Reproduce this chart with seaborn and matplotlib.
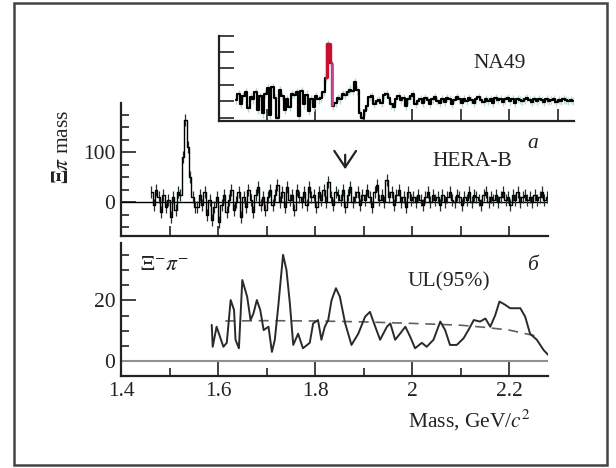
import numpy as np
import pandas as pd
import matplotlib
matplotlib.use("Agg")
import matplotlib.pyplot as plt
import seaborn as sns
from matplotlib.patches import Rectangle
from matplotlib.ticker import MultipleLocator, FixedLocator

# ---------------- data ----------------
# HERA-B Xi pi mass spectrum (counts per 5 MeV bin, starting at 1.460 GeV)
HERAB_START = 1.460
HERAB_BIN = 0.005
herab_counts = [
    20, -5, 25, 10, -20, 15, -10, 5, -30, 10, -15, 20,
    15, 90, 165, 110, 50, 10, -10,
    -10, 15, -5, 20, -25, 5, -35, -10, 10, -40, -5, 15, -20, 5, 25, -15, 0, 20, -30, 10,
    -10, 25, 5, -20, 15, 30, -5, 10, -15,
    10, 25, -5, 15, 35, 0, 20, -10, 30, 5, 15, -15, 25, 10, 0, 20, -5, 30, 10, 15,
    -10, 20, 5, 25, 0, 40, 10, -5, 20, 15, 5, 25, -10, 15, 30, 0, 10, 20, -5, 15,
    5, 25, 10, -10, 20, 35, 5, 15, 0, 45, 10, 20, -5, 15, 25, 0, 10, -10, 20, 5,
    10, 0, 15, 5, -5, 10, 20, 0, 15, 5, 10, -5, 15, 0, 10, 20, 5, 0, 15, 10,
    -5, 10, 5, 20, 0, 15, 10, 5, -5, 15, 20, 0, 10, 5, 15, 0, 10, 20, 5, 10,
    -5, 15, 5, 20, 0, 10, 15, 5, 10, 0, 15, 5, 10, 20, 5, 10,
]
HERAB_ERR = 12

# NA49 inset (arbitrary units per 5 MeV bin, starting at 1.635 GeV)
NA49_START = 1.635
NA49_BIN = 0.005
na49_counts = [
    0.06, 0.45, -0.15, 0.3, 0.57, -0.4, 0.25, 0.1, 0.57, -0.55, 0.3, -0.75,
    0.45, 0.77, -0.85, 0.87, 0.2, -1.05, 0.67, 0.3, -0.55, 0.1, -0.35, 0.45,
    0.35, 0.55, -0.9, 0.6, -0.2, 0.4, -0.6, 0.15, -0.35, 0.3, 0.1, 0.2,
    0.55, 1.4, 3.45, 2.3,
    -0.3, -0.1, 0.2, 0.1, 0.45, 0.4, 0.55, 0.7, 0.6, 1.17, 0.65, -0.75, -1.05, -0.6,
    -0.3, 0.25, 0.3, -0.15, 0.0, 0.05, -0.1, 0.35, 0.45, 0.2, -0.2, -0.35, 0.15, 0.3,
    0.05, 0.2, -0.3, 0.1, 0.3, 0.45, -0.15, 0.0, 0.1, -0.1, 0.2, 0.05, -0.15, 0.1,
    0.25, 0.0, -0.1, 0.15, -0.05, 0.2, 0.1, -0.15, 0.05, 0.25, 0.1, -0.1, 0.15, 0.0,
    0.2, 0.05, -0.1, 0.1, 0.25, 0.05, -0.05, 0.15, 0.0, 0.1, -0.1, 0.2, 0.05, 0.15,
    -0.05, 0.1, 0.2, 0.0, 0.1, -0.1, 0.15, 0.05, 0.0, 0.1, 0.2, 0.05, -0.05, 0.1,
    0.0, 0.15, 0.05, -0.05, 0.1, 0.0, 0.05, 0.1, -0.05, 0.05, 0.0, 0.1, 0.05, 0.0,
    0.05, 0.0,
]
NA49_PEAK_RED = 38      # bin index of the red peak bin
NA49_PEAK_MAG = [37, 39]  # neighbouring magenta bins

# Xi- pi- spectrum (panel b)
ul_mass = [1.587, 1.589, 1.597, 1.604, 1.611, 1.618, 1.626, 1.633, 1.636, 1.643,
           1.650, 1.660, 1.667, 1.673, 1.680, 1.687, 1.694, 1.704, 1.711, 1.717,
           1.724, 1.734, 1.741, 1.748, 1.755, 1.765, 1.775, 1.789, 1.796, 1.806,
           1.813, 1.820, 1.827, 1.834, 1.843, 1.851, 1.862, 1.875, 1.889, 1.903,
           1.913, 1.924, 1.934, 1.948, 1.955, 1.965, 1.975, 1.986, 1.996, 2.006,
           2.020, 2.030, 2.044, 2.058, 2.068, 2.078, 2.092, 2.106, 2.116, 2.127,
           2.140, 2.151, 2.161, 2.171, 2.180, 2.192, 2.202, 2.212, 2.223, 2.233,
           2.243, 2.257, 2.271, 2.281]
ul_counts = [11.9, 4.7, 11.3, 8.0, 4.7, 6.0, 20.1, 16.8, 7.0, 4.2,
             26.7, 21.2, 13.5, 15.7, 20.1, 16.8, 10.2, 11.3, 3.0, 7.0,
             17.9, 35.0, 30.0, 19.0, 5.3, 9.0, 4.2, 6.0, 12.4, 13.5,
             7.0, 11.3, 13.5, 20.1, 24.0, 21.2, 12.4, 5.3, 9.0, 14.6,
             16.2, 11.3, 7.0, 11.3, 12.4, 7.0, 9.0, 11.3, 8.0, 4.2,
             6.0, 4.7, 7.0, 13.0, 10.2, 5.3, 5.3, 7.5, 10.2, 13.5,
             13.0, 14.0, 11.3, 15.0, 19.6, 18.5, 17.4, 17.4, 17.4, 14.6,
             9.0, 7.0, 3.6, 1.9]
ul95_mass = [1.615, 1.70, 1.80, 1.90, 2.00, 2.10, 2.15, 2.20, 2.257]
ul95_level = [13.2, 13.3, 13.2, 12.9, 12.4, 11.8, 11.1, 10.2, 8.2]

main_xticks = [1.4, 1.6, 1.8, 2.0, 2.2]
main_xlabels = ["1.4", "1.6", "1.8", "2", "2.2"]

# ---------------- style ----------------
sns.set_style("ticks")
plt.rcParams['font.family'] = ['Liberation Serif', 'DejaVu Serif']
plt.rcParams['mathtext.fontset'] = 'stix'
FS = 15.5
INK = '#222222'

W, H = 616, 468
fig = plt.figure(figsize=(W / 100, H / 100), dpi=100)


def box(l, t, r, b):
    return [l / W, 1 - b / H, (r - l) / W, (b - t) / H]


ax_m = fig.add_axes(box(121, 103, 548, 236))
ax_b = fig.add_axes(box(121, 243, 548, 376))
ax_i = fig.add_axes(box(219, 36, 574, 121))

for ax in (ax_m, ax_b, ax_i):
    ax.set_facecolor('none')
    for s in ('top', 'right'):
        ax.spines[s].set_visible(False)
    for s in ('left', 'bottom'):
        ax.spines[s].set_linewidth(1.6)
        ax.spines[s].set_color(INK)
    ax.tick_params(which='both', direction='in', color=INK, width=1.2,
                   labelsize=FS, labelcolor=INK, pad=4)

# ---------------- HERA-B panel ----------------
hb = np.array(herab_counts, dtype=float)
hb_x = HERAB_START + (np.arange(len(hb)) + 0.5) * HERAB_BIN
ax_m.axhline(0, color='black', lw=1.0, zorder=1)
ax_m.vlines(hb_x, hb - HERAB_ERR, hb + HERAB_ERR, color='#20302e', lw=0.9, zorder=2)
sns.lineplot(x=hb_x, y=hb, ax=ax_m, drawstyle='steps-mid', color='black',
             lw=1.0, estimator=None, zorder=3)
ax_m.set_xlim(1.4, 2.28)
ax_m.set_ylim(-68, 198)
ax_m.xaxis.set_major_locator(MultipleLocator(0.1))
ax_m.set_xticklabels([])
ax_m.tick_params(axis='x', length=7)
ax_m.yaxis.set_major_locator(FixedLocator([0, 100]))
ax_m.yaxis.set_minor_locator(FixedLocator([-50, -25, 25, 50, 75, 125, 150, 175]))
ax_m.tick_params(axis='y', which='major', length=11)
ax_m.tick_params(axis='y', which='minor', length=6)
ax_m.set_xlabel('')
ax_m.set_ylabel('')
ax_m.annotate('', xy=(1.862, 60), xytext=(1.862, 100),
              arrowprops=dict(arrowstyle='->,head_length=0.45,head_width=0.3',
                              lw=1.6, color=INK, mutation_scale=26))
ax_m.text(2.124, 80, 'HERA-B', fontsize=FS, ha='center', va='center', color=INK)
ax_m.text(2.249, 118, 'a', fontsize=FS, style='italic', ha='center', va='center', color=INK)

# ---------------- Xi- pi- panel ----------------
ax_b.axhline(0, color='#909090', lw=1.5, zorder=1)
sns.lineplot(x=ul95_mass, y=ul95_level, ax=ax_b, color='#606060', lw=1.2,
             dashes=False, estimator=None, zorder=2).lines[-1].set_dashes([6, 4])
sns.lineplot(x=ul_mass, y=ul_counts, ax=ax_b, color='#2a2a2a', lw=1.4,
             estimator=None, sort=False, zorder=3)
ax_b.set_xlim(1.4, 2.28)
ax_b.set_ylim(-4.94, 38.9)
ax_b.xaxis.set_major_locator(FixedLocator(main_xticks))
ax_b.set_xticklabels(main_xlabels)
ax_b.xaxis.set_minor_locator(FixedLocator([1.5, 1.7, 1.9, 2.1]))
ax_b.tick_params(axis='x', which='major', length=11)
ax_b.tick_params(axis='x', which='minor', length=6)
ax_b.yaxis.set_major_locator(FixedLocator([0, 20]))
ax_b.yaxis.set_minor_locator(FixedLocator([5, 10, 15, 25, 30, 35]))
ax_b.tick_params(axis='y', which='major', length=11)
ax_b.tick_params(axis='y', which='minor', length=6)
ax_b.set_xlabel('')
ax_b.set_ylabel('')
ax_b.text(2.076, 26, 'UL(95%)', fontsize=FS, ha='center', va='center', color=INK)
ax_b.text(2.249, 31.6, 'б', fontsize=FS, style='italic', ha='center', va='center', color=INK)
ax_b.text(1.44, 31.5, r'$\Xi^{-}\pi^{-}$', fontsize=FS, ha='left', va='center', color=INK)

# ---------------- NA49 inset ----------------
na = np.array(na49_counts, dtype=float)
na_x = NA49_START + (np.arange(len(na)) + 0.5) * NA49_BIN
ax_i.vlines(na_x, na - 0.25, na + 0.25, color='#b9d8cf', lw=1.0, zorder=1)
sns.lineplot(x=na_x, y=na, ax=ax_i, drawstyle='steps-mid', color='black',
             lw=1.6, estimator=None, zorder=2)
for idx in NA49_PEAK_MAG:
    ax_i.plot([na_x[idx] - NA49_BIN / 2, na_x[idx] + NA49_BIN / 2], [na[idx], na[idx]],
              color='#d0409a', lw=2.0, zorder=3, solid_capstyle='butt')
ax_i.vlines([na_x[NA49_PEAK_RED] - NA49_BIN / 2], na[NA49_PEAK_MAG[0]], na[NA49_PEAK_RED],
            color='#c8102e', lw=2.4, zorder=4)
ax_i.vlines([na_x[NA49_PEAK_RED] + NA49_BIN / 2], na[NA49_PEAK_MAG[1]], na[NA49_PEAK_RED],
            color='#c8102e', lw=2.4, zorder=4)
ax_i.vlines([na_x[NA49_PEAK_MAG[1]] + NA49_BIN / 2], na[NA49_PEAK_MAG[1] + 1], na[NA49_PEAK_MAG[1]],
            color='#d0409a', lw=2.0, zorder=3)
ax_i.plot([na_x[NA49_PEAK_RED] - NA49_BIN / 2, na_x[NA49_PEAK_RED] + NA49_BIN / 2],
          [na[NA49_PEAK_RED]] * 2, color='#c8102e', lw=2.4, zorder=4)
ax_i.set_xlim(1.602, 2.334)
ax_i.set_ylim(-1.21, 3.96)
ax_i.xaxis.set_major_locator(FixedLocator([1.7, 1.8, 1.9, 2.0, 2.1, 2.2, 2.3]))
ax_i.yaxis.set_major_locator(FixedLocator([-1, 0, 1, 2, 3, 3.94]))
ax_i.set_xticklabels([])
ax_i.set_yticklabels([])
ax_i.tick_params(axis='x', length=9)
ax_i.tick_params(axis='y', length=11)
ax_i.set_xlabel('')
ax_i.set_ylabel('')
ax_i.text(2.181, 2.3, 'NA49', fontsize=FS, ha='center', va='center', color=INK)

# ---------------- figure texts & frame ----------------
fig.text(63 / W, 1 - 147 / H, r'$\mathbf{\Xi}\pi$ mass', rotation=90, fontsize=FS,
         ha='center', va='center', color=INK)
fig.text(469 / W, 1 - 420 / H, r'Mass, GeV/$c^2$', fontsize=FS,
         ha='center', va='center', color=INK)
fig.patches.append(Rectangle((14 / W, 1 - 465 / H), (607 - 14) / W, (465 - 3) / H,
                             transform=fig.transFigure, fill=False,
                             edgecolor='#444444', lw=1.8))

fig.savefig('out.png', dpi=100)
